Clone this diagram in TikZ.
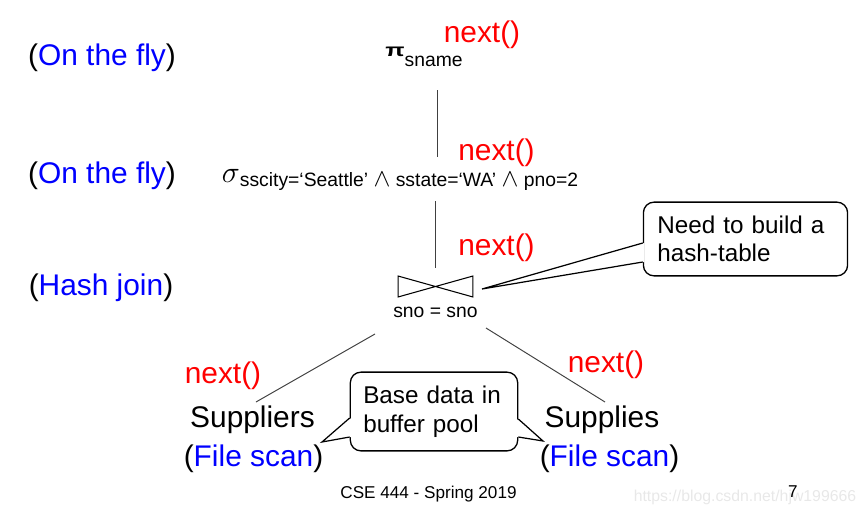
\documentclass[tikz,border=0pt]{standalone}
\usepackage{fontspec}
\setmainfont{Liberation Sans}
\usepackage{xcolor}
\usepackage{graphicx}
\usetikzlibrary{calc}
\definecolor{NextRed}{RGB}{255,0,0}
\definecolor{ModeBlue}{RGB}{0,0,255}
\definecolor{MarkGray}{RGB}{232,232,232}
\newcommand{\andop}{{\fontsize{14}{14}\selectfont$\wedge$}}

\begin{document}
\begin{tikzpicture}[x=0.02cm,y=-0.02cm,
    big/.style={font=\fontsize{17}{20}\selectfont,inner sep=0pt,anchor=base},
    nxt/.style={big,text=NextRed},
    small/.style={font=\fontsize{11}{13}\selectfont,inner sep=0pt,anchor=base},
    note/.style={draw,line width=0.75pt,fill=white,rounded corners=6pt,
                 font=\fontsize{13.8}{16.2}\selectfont,align=left,inner ysep=0pt},
    edge/.style={draw=black!75,line width=0.55pt}]
  \useasboundingbox (0,0) rectangle (866,514);

  % evaluation mode of each level
  \node[big] (fly1) at (102,65)  {(\textcolor{ModeBlue}{On the fly})};
  \node[big] (fly2) at (102,183) {(\textcolor{ModeBlue}{On the fly})};
  \node[big] (hjn)  at (101,295) {(\textcolor{ModeBlue}{Hash join})};

  % plan operators
  \node[big] (proj) at (424,56)
    {\resizebox{11pt}{5.4pt}{\bfseries π}\raisebox{-6pt}{\fontsize{11}{13}\selectfont sname}};
  \node[big] (sel) at (400,182)
    {$\sigma$\raisebox{-2.8pt}{\fontsize{11}{13}\selectfont sscity=‘Seattle’ \andop{} sstate=‘WA’ \andop{} pno=2}};
  \node[minimum width=42.5pt,minimum height=11.9pt,inner sep=0pt,outer sep=0pt] (join) at (435.5,286.5) {};
  \draw[line width=0.6pt] (join.north west) -- (join.south east) -- (join.north east)
    -- (join.south west) -- cycle;
  \node[small] (cond) at (435.5,317) {sno = sno};

  \node[big] (supl) at (252.5,427) {Suppliers};
  \node[big] (fs1)  at (253.5,466) {(\textcolor{ModeBlue}{File scan})};
  \node[big] (sups) at (602,427)   {Supplies};
  \node[big] (fs2)  at (609.5,466) {(\textcolor{ModeBlue}{File scan})};

  % iterator calls
  \node[nxt] (n1) at (482,42)    {next()};
  \node[nxt] (n2) at (496.5,160) {next()};
  \node[nxt] (n3) at (496.5,255) {next()};
  \node[nxt] (n4) at (223,383)   {next()};
  \node[nxt] (n5) at (606,372)   {next()};

  \draw[edge] ($(proj.base)+(13.5,34)$) -- ($(sel.base -| proj.base)+(13.5,-25)$);
  \draw[edge] ($(sel.base -| join.north)+(0,19)$) -- ($(join.north)+(0,-8)$);
  \draw[edge] ($(cond.base)+(-60.5,17)$) -- ($(supl.base)+(3.5,-25)$);
  \draw[edge] ($(cond.base)+(50.5,11)$) -- ($(sups.base)+(3,-25)$);

  % callouts
  \node[note,minimum width=116.2pt,minimum height=41.95pt,text width=100.3pt,inner xsep=7.94pt]
    (hsh) at (745.5,239) {Need to build a\\hash-table};
  \node[note,minimum width=95.2pt,minimum height=44.8pt,text width=80.5pt,inner xsep=7.37pt]
    (buf) at (434,411.5) {Base data in\\buffer pool};

  \coordinate (tiph) at (482,289);
  \coordinate (tipl) at (322,442);
  \coordinate (tipr) at (543,441);
  \fill[white] ($(hsh.west)+(1.5,4)$) -- (tiph) -- ($(hsh.west)+(1.5,23)$) -- cycle;
  \draw[line width=0.7pt] ($(hsh.west)+(0,4)$) -- (tiph) -- ($(hsh.west)+(0,23)$);
  \fill[white] ($(buf.west)+(1.5,6.5)$) -- (tipl) -- ($(buf.west)+(1.5,25.5)$) -- cycle;
  \draw[line width=0.7pt] ($(buf.west)+(0,6.5)$) -- (tipl) -- ($(buf.west)+(0,25.5)$);
  \fill[white] ($(buf.east)+(-1.5,7.5)$) -- (tipr) -- ($(buf.east)+(-1.5,25.5)$) -- cycle;
  \draw[line width=0.7pt] ($(buf.east)+(0,7.5)$) -- (tipr) -- ($(buf.east)+(0,25.5)$);

  % footer
  \node[font=\fontsize{9}{11}\selectfont,text=MarkGray,inner sep=0pt,anchor=base] (mark) at (745,501)
    {https://blog.csdn.net/hjw199666};
  \node[font=\fontsize{9.75}{12}\selectfont,inner sep=0pt,anchor=base] (foot) at (428.5,498)
    {CSE 444 - Spring 2019};
  \node[font=\fontsize{9.75}{12}\selectfont,inner sep=0pt,anchor=base] (page) at (793,497) {7};
\end{tikzpicture}
\end{document}
